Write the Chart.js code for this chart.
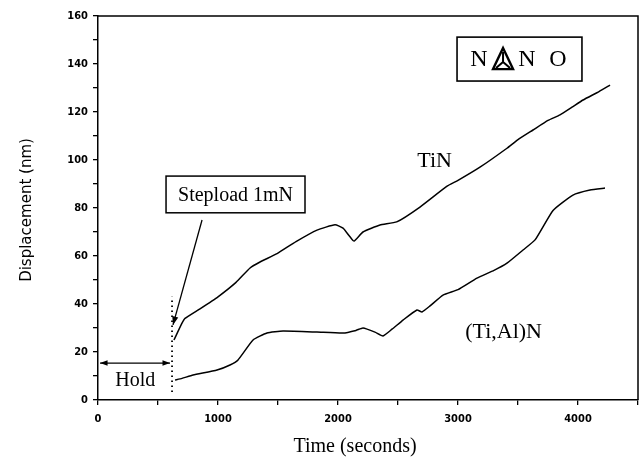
<!DOCTYPE html>
<html lang="en">
<head>
    <meta charset="UTF-8">
    <title>Displacement vs time</title>
    <style>
        html, body { margin: 0; padding: 0; background: #fff; }
        .chart-container { width: 639px; height: 458px; }
    </style>
</head>
<body>
    <div class="chart-container">
        <canvas id="myChart" width="639" height="458"></canvas>
    </div>

    <script src="https://cdn.jsdelivr.net/npm/chart.js"></script>
    <script>
        // TiN curve (time in s, displacement in nm)
        const tinTime = [633, 700, 725, 850, 1000, 1150, 1267, 1350, 1492, 1650, 1825, 1975, 2042, 2100, 2133, 2208, 2350, 2489, 2683, 2906, 3000, 3183, 3408, 3500, 3625, 3750, 3850, 3950, 4042, 4175, 4267];
        const tinDisp = [25, 32, 34, 38, 43, 49, 55, 57.5, 61, 66, 70.8, 73, 71.6, 68, 66.2, 70, 72.9, 74.2, 80.4, 89, 91.5, 97, 104.9, 108.5, 112.5, 116.5, 118.8, 122, 125, 128.5, 131.2];

        // (Ti,Al)N curve
        const tialTime = [642, 700, 792, 992, 1100, 1167, 1292, 1408, 1542, 1825, 2042, 2150, 2208, 2308, 2375, 2450, 2542, 2658, 2700, 2767, 2875, 3000, 3158, 3300, 3408, 3542, 3642, 3792, 3958, 4100, 4225];
        const tialDisp = [8.3, 9, 10.4, 12.5, 14.6, 16.7, 25, 27.9, 28.7, 28.3, 27.9, 29, 30, 28.3, 26.7, 29.5, 33.3, 37.5, 36.7, 39.2, 43.7, 46, 50.8, 54, 57, 62.5, 66.7, 79, 85.4, 87.5, 88.3];

        // axis ranges / ticks
        const xMax = 4500, xStep = 500, xLabelEvery = 1000;
        const yMax = 160, yStep = 10, yLabelEvery = 20;

        // annotation anchors in data units
        const holdArrow = [17, 600, 15.4];        // t from, t to, displacement
        const holdLabel = [310, 8];
        const stepLine = [617, 3.3, 43];          // t, from, to
        const stepArrow = [867, 75, 625, 31.3];   // from (t, d) to (t, d)
        const stepBox = [567, 1725, 93.3, 78];    // t1, t2, d1, d2
        const nanoBox = [2992, 4033, 151.2, 132.9];
        const tinLabel = [2805, 99.5];
        const tialLabel = [3380, 28.3];

        const toXY = (ts, ds) => ts.map((t, i) => ({ x: t, y: ds[i] }));

        const arrowHead = (ctx, x1, y1, x2, y2, size) => {
            const a = Math.atan2(y2 - y1, x2 - x1);
            ctx.beginPath();
            ctx.moveTo(x2, y2);
            ctx.lineTo(x2 - size * Math.cos(a - 0.35), y2 - size * Math.sin(a - 0.35));
            ctx.lineTo(x2 - size * Math.cos(a + 0.35), y2 - size * Math.sin(a + 0.35));
            ctx.closePath();
            ctx.fill();
        };

        // frame, annotations and titles
        const extras = {
            id: 'extras',
            afterDraw(chart) {
                const { ctx, chartArea: ca, scales: { x, y } } = chart;
                const px = v => x.getPixelForValue(v);
                const py = v => y.getPixelForValue(v);
                ctx.save();
                ctx.strokeStyle = '#000';
                ctx.fillStyle = '#000';

                // top and right frame
                ctx.lineWidth = 1.5;
                ctx.beginPath();
                ctx.moveTo(ca.left, ca.top);
                ctx.lineTo(ca.right, ca.top);
                ctx.lineTo(ca.right, ca.bottom);
                ctx.stroke();

                // hold double arrow
                ctx.lineWidth = 1.3;
                const hy = py(holdArrow[2]);
                ctx.beginPath();
                ctx.moveTo(px(holdArrow[0]), hy);
                ctx.lineTo(px(holdArrow[1]), hy);
                ctx.stroke();
                arrowHead(ctx, px(holdArrow[1]), hy, px(holdArrow[0]), hy, 8);
                arrowHead(ctx, px(holdArrow[0]), hy, px(holdArrow[1]), hy, 8);

                // dotted step line
                ctx.setLineDash([1.6, 3.4]);
                ctx.lineWidth = 1.8;
                ctx.beginPath();
                ctx.moveTo(px(stepLine[0]), py(stepLine[1]));
                ctx.lineTo(px(stepLine[0]), py(stepLine[2]));
                ctx.stroke();
                ctx.setLineDash([]);

                // stepload arrow
                ctx.lineWidth = 1.3;
                const ax1 = px(stepArrow[0]), ay1 = py(stepArrow[1]), ax2 = px(stepArrow[2]), ay2 = py(stepArrow[3]);
                ctx.beginPath();
                ctx.moveTo(ax1, ay1);
                ctx.lineTo(ax2, ay2);
                ctx.stroke();
                arrowHead(ctx, ax1, ay1, ax2, ay2, 9);

                // stepload box
                ctx.lineWidth = 1.5;
                const bx1 = px(stepBox[0]), bx2 = px(stepBox[1]), by1 = py(stepBox[2]), by2 = py(stepBox[3]);
                ctx.strokeRect(bx1, by1, bx2 - bx1, by2 - by1);
                ctx.font = '20px "Liberation Serif"';
                ctx.textAlign = 'center';
                ctx.textBaseline = 'middle';
                ctx.fillText('Stepload 1mN', (bx1 + bx2) / 2, (by1 + by2) / 2 + 1, bx2 - bx1 - 12);

                // hold label
                ctx.font = '20px "Liberation Serif"';
                ctx.fillText('Hold', px(holdLabel[0]), py(holdLabel[1]));

                // series labels
                ctx.font = '22px "Liberation Serif"';
                ctx.fillText('TiN', px(tinLabel[0]), py(tinLabel[1]));
                ctx.fillText('(Ti,Al)N', px(tialLabel[0]), py(tialLabel[1]));

                // NANO logo
                const nx1 = px(nanoBox[0]), nx2 = px(nanoBox[1]), ny1 = py(nanoBox[2]), ny2 = py(nanoBox[3]);
                ctx.lineWidth = 1.6;
                ctx.strokeRect(nx1, ny1, nx2 - nx1, ny2 - ny1);
                const cy = (ny1 + ny2) / 2;
                ctx.font = '24px "Liberation Serif"';
                ctx.fillText('N', nx1 + 22, cy + 1);
                ctx.fillText('N', nx1 + 70, cy + 1);
                ctx.fillText('O', nx1 + 101, cy + 1);
                const tx = nx1 + 46, tTop = cy - 11, tBot = cy + 10;
                ctx.lineWidth = 2.4;
                ctx.beginPath();
                ctx.moveTo(tx, tTop);
                ctx.lineTo(tx - 10, tBot);
                ctx.lineTo(tx + 10, tBot);
                ctx.closePath();
                ctx.stroke();
                ctx.lineWidth = 2;
                const gy = cy + 3;
                ctx.beginPath();
                ctx.moveTo(tx, tTop + 4); ctx.lineTo(tx, gy);
                ctx.moveTo(tx, gy); ctx.lineTo(tx - 7, tBot - 1);
                ctx.moveTo(tx, gy); ctx.lineTo(tx + 7, tBot - 1);
                ctx.stroke();

                // axis titles
                ctx.font = '20px "Liberation Serif"';
                ctx.fillText('Time (seconds)', 355, 447);
                ctx.translate(27, 210);
                ctx.rotate(-Math.PI / 2);
                ctx.font = '15px "DejaVu Sans"';
                ctx.fillText('Displacement (nm)', 0, 0);
                ctx.restore();
            }
        };

        const lineStyle = {
            borderColor: '#000',
            borderWidth: 1.5,
            pointRadius: 0,
            fill: false,
            tension: 0.15
        };

        const tickFont = { family: '"DejaVu Sans Condensed", "DejaVu Sans"', size: 11, weight: 'bold' };

        const ctx = document.getElementById('myChart').getContext('2d');
        const myChart = new Chart(ctx, {
            type: 'line',
            data: {
                datasets: [
                    { label: 'TiN', data: toXY(tinTime, tinDisp), ...lineStyle },
                    { label: '(Ti,Al)N', data: toXY(tialTime, tialDisp), ...lineStyle }
                ]
            },
            options: {
                responsive: false,
                animation: false,
                layout: { padding: { left: 0, right: 1, top: 16, bottom: 0 } },
                scales: {
                    x: {
                        type: 'linear',
                        min: 0,
                        max: xMax,
                        afterFit: s => { s.height = 58; s.paddingLeft = 0; s.paddingRight = 0; },
                        border: { display: true, color: '#000', width: 1.5 },
                        grid: { drawOnChartArea: false, drawTicks: true, tickLength: 5, color: '#000', lineWidth: 1.3 },
                        ticks: {
                            stepSize: xStep,
                            color: '#000',
                            font: tickFont,
                            padding: 8,
                            maxRotation: 0,
                            autoSkip: false,
                            callback: v => (v % xLabelEvery === 0 && v < xMax ? v : '')
                        }
                    },
                    y: {
                        min: 0,
                        max: yMax,
                        afterFit: s => { s.width = 98; s.paddingTop = 0; s.paddingBottom = 0; },
                        border: { display: true, color: '#000', width: 1.5 },
                        grid: { drawOnChartArea: false, drawTicks: true, tickLength: 5, color: '#000', lineWidth: 1.3 },
                        ticks: {
                            stepSize: yStep,
                            color: '#000',
                            font: tickFont,
                            padding: 5,
                            autoSkip: false,
                            callback: v => (v % yLabelEvery === 0 ? v : '')
                        }
                    }
                },
                plugins: {
                    legend: { display: false },
                    tooltip: { enabled: false }
                }
            },
            plugins: [extras]
        });
    </script>
</body>
</html>
